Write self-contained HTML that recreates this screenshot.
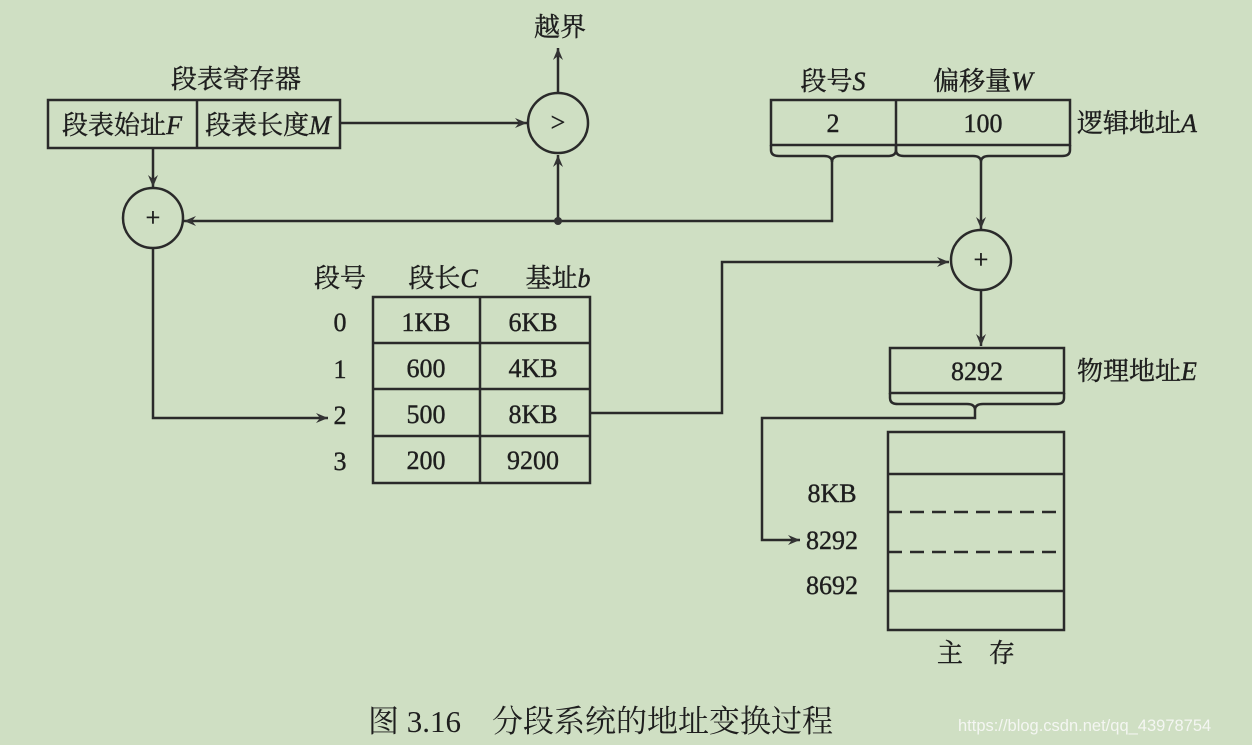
<!DOCTYPE html>
<html><head><meta charset="utf-8"><style>
body{margin:0;background:#cfdfc3;}
svg{display:block}
text{font-family:"Liberation Serif","Noto Serif CJK SC",serif;fill:#1e1e1e;}
</style></head><body>
<svg width="1252" height="745" viewBox="0 0 1252 745" xmlns="http://www.w3.org/2000/svg">
<defs><marker id="a" viewBox="0 0 12 10" refX="12" refY="5" markerWidth="12" markerHeight="10" orient="auto" markerUnits="userSpaceOnUse"><path d="M0,0 L12,5 L0,10 L4,5 z" fill="#333"/></marker></defs>
<rect width="1252" height="745" fill="#cfdfc3"/>
<g stroke="#2a2a2a" stroke-width="2.5" fill="none">
<rect x="48" y="100" width="292" height="48"/><line x1="197" y1="100" x2="197" y2="148"/>
<line x1="340" y1="123" x2="527" y2="123" marker-end="url(#a)"/>
<circle cx="558" cy="123" r="30"/>
<line x1="558" y1="93" x2="558" y2="48" marker-end="url(#a)"/>
<line x1="153" y1="148" x2="153" y2="187" marker-end="url(#a)"/>
<circle cx="153" cy="218" r="30"/>
<polyline points="832,158 832,221 184,221" marker-end="url(#a)"/>
<line x1="558" y1="221" x2="558" y2="155" marker-end="url(#a)"/>
<rect x="771" y="100" width="299" height="45"/><line x1="896" y1="100" x2="896" y2="145"/>
<path d="M771,145 v5 q0,6 8,6 h45 q8,0 8,6 q0,-6 8,-6 h48 q8,0 8,-6 v-5"/>
<path d="M896,145 v5 q0,6 8,6 h69 q8,0 8,6 q0,-6 8,-6 h73 q8,0 8,-6 v-5"/>
<line x1="981" y1="162" x2="981" y2="229" marker-end="url(#a)"/>
<circle cx="981" cy="260" r="30"/>
<line x1="981" y1="290" x2="981" y2="346" marker-end="url(#a)"/>
<rect x="890" y="348" width="174" height="45"/>
<path d="M890,393 v5 q0,6 8,6 h69 q8,0 8,6 q0,-6 8,-6 h73 q8,0 8,-6 v-5"/>
<polyline points="975,410 975,418 762,418 762,540 800,540" marker-end="url(#a)"/>
<rect x="888" y="432" width="176" height="198"/>
<line x1="888" y1="474" x2="1064" y2="474"/>
<line x1="888" y1="512" x2="1064" y2="512" stroke-dasharray="14,8"/>
<line x1="888" y1="552" x2="1064" y2="552" stroke-dasharray="14,8"/>
<line x1="888" y1="591" x2="1064" y2="591"/>
<rect x="373" y="297" width="217" height="186"/>
<line x1="480" y1="297" x2="480" y2="483"/>
<line x1="373" y1="343" x2="590" y2="343"/><line x1="373" y1="389" x2="590" y2="389"/><line x1="373" y1="436" x2="590" y2="436"/>
<polyline points="153,248 153,418 328,418" marker-end="url(#a)"/>
<polyline points="590,413 722,413 722,262 949,262" marker-end="url(#a)"/>
</g>
<circle cx="558" cy="221" r="4" fill="#333"/>
<g font-size="26" stroke="#1e1e1e" stroke-width="0.4">
<text x="560" y="36" text-anchor="middle">越界</text>
<text x="236" y="88" text-anchor="middle">段表寄存器</text>
<text x="122" y="134" text-anchor="middle">段表始址<tspan font-style="italic">F</tspan></text>
<text x="268" y="134" text-anchor="middle">段表长度<tspan font-style="italic">M</tspan></text>
<text x="558" y="131" text-anchor="middle">&gt;</text>
<text x="153" y="226" text-anchor="middle">+</text>
<text x="981" y="268" text-anchor="middle">+</text>
<text x="833" y="90" text-anchor="middle">段号<tspan font-style="italic">S</tspan></text>
<text x="983" y="90" text-anchor="middle">偏移量<tspan font-style="italic">W</tspan></text>
<text x="833" y="132" text-anchor="middle">2</text>
<text x="983" y="132" text-anchor="middle">100</text>
<text x="1077" y="132">逻辑地址<tspan font-style="italic">A</tspan></text>
<text x="977" y="380" text-anchor="middle">8292</text>
<text x="1077" y="380">物理地址<tspan font-style="italic">E</tspan></text>
<text x="340" y="287" text-anchor="middle">段号</text>
<text x="443" y="287" text-anchor="middle">段长<tspan font-style="italic">C</tspan></text>
<text x="558" y="287" text-anchor="middle">基址<tspan font-style="italic">b</tspan></text>
<text x="340" y="331" text-anchor="middle">0</text><text x="340" y="378" text-anchor="middle">1</text><text x="340" y="424" text-anchor="middle">2</text><text x="340" y="470" text-anchor="middle">3</text>
<text x="426" y="331" text-anchor="middle">1KB</text><text x="426" y="377" text-anchor="middle">600</text><text x="426" y="423" text-anchor="middle">500</text><text x="426" y="469" text-anchor="middle">200</text>
<text x="533" y="331" text-anchor="middle">6KB</text><text x="533" y="377" text-anchor="middle">4KB</text><text x="533" y="423" text-anchor="middle">8KB</text><text x="533" y="469" text-anchor="middle">9200</text>
<text x="832" y="502" text-anchor="middle">8KB</text>
<text x="832" y="549" text-anchor="middle">8292</text>
<text x="832" y="594" text-anchor="middle">8692</text>
<text x="976" y="662" text-anchor="middle">主　存</text>
</g>
<text x="368" y="732" font-size="31">图 3.16　分段系统的地址变换过程</text>
<text x="958" y="731" font-size="16.5" style="font-family:'Liberation Sans',sans-serif;fill:#f4f6f2">https://blog.csdn.net/qq_43978754</text>
</svg>
</body></html>
